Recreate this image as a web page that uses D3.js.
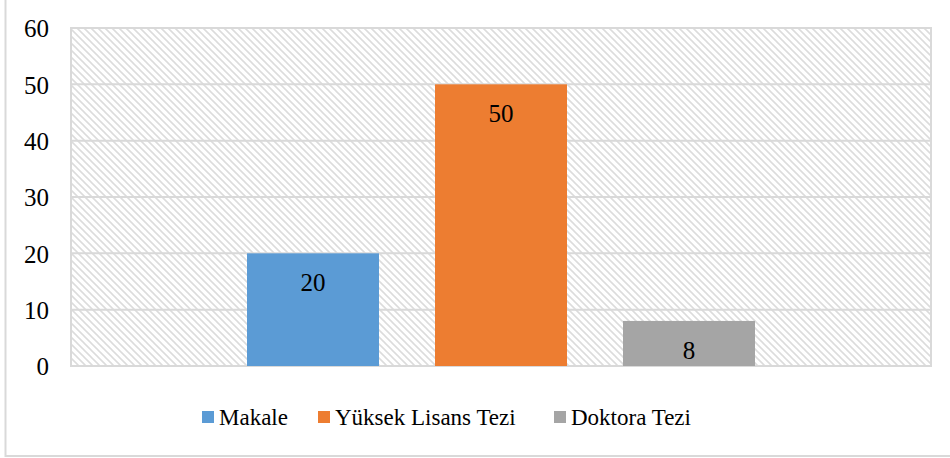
<!DOCTYPE html>
<html>
<head>
<meta charset="utf-8">
<script src="https://cdn.jsdelivr.net/npm/d3@7"></script>
<style>
  html, body { margin: 0; padding: 0; background: #fff; }
</style>
</head>
<body>
<div id="chart"></div>
<script>
// Data
const series = ['Makale', 'Yüksek Lisans Tezi', 'Doktora Tezi'];
const values = [20, 50, 8];
const colors = ['#5b9bd5', '#ed7d31', '#a5a5a5'];
const yTicks = [0, 10, 20, 30, 40, 50, 60];

const FONT = 'Liberation Serif';
const W = 950, H = 458;
const plot = { left: 71, top: 28, right: 931, bottom: 366 };

const svg = d3.select('#chart').append('svg')
  .attr('width', W).attr('height', H)
  .attr('font-family', FONT);

// Hatch pattern for plot background
const defs = svg.append('defs');
defs.append('pattern')
  .attr('id', 'hatch')
  .attr('patternUnits', 'userSpaceOnUse')
  .attr('width', 7).attr('height', 7)
  .selectAll('path')
  .data(['M-1,-1 L8,8', 'M-1,6 L1,8', 'M6,-1 L8,1'])
  .join('path')
  .attr('d', d => d)
  .attr('stroke', '#dcdcdc')
  .attr('stroke-width', 1.6);

// Outer frame
svg.append('rect')
  .attr('x', 5.5).attr('y', -2)
  .attr('width', W + 10).attr('height', 458)
  .attr('fill', 'none')
  .attr('stroke', '#d9d9d9').attr('stroke-width', 2);

const y = d3.scaleLinear().domain([0, 60]).range([plot.bottom, plot.top]);
const x = d3.scaleBand().domain(series)
  .range([plot.left + 176, plot.right - 176])
  .paddingInner(56 / 188).paddingOuter(0);

// Plot area background
svg.append('rect')
  .attr('x', plot.left).attr('y', plot.top)
  .attr('width', plot.right - plot.left).attr('height', plot.bottom - plot.top)
  .attr('fill', 'url(#hatch)');

// Gridlines
svg.append('g')
  .selectAll('line')
  .data(yTicks)
  .join('line')
  .attr('x1', plot.left).attr('x2', plot.right)
  .attr('y1', d => y(d)).attr('y2', d => y(d))
  .attr('stroke', '#d9d9d9').attr('stroke-width', 2);

// Plot area border
svg.append('rect')
  .attr('x', plot.left).attr('y', plot.top)
  .attr('width', plot.right - plot.left).attr('height', plot.bottom - plot.top)
  .attr('fill', 'none')
  .attr('stroke', '#d9d9d9').attr('stroke-width', 2);

// Y axis labels
const yAxis = svg.append('g')
  .attr('transform', `translate(${plot.left - 22},0)`)
  .call(d3.axisLeft(y).tickValues(yTicks).tickSize(0).tickPadding(0))
  .attr('font-family', FONT)
  .attr('font-size', 25);
yAxis.select('.domain').remove();
yAxis.selectAll('text')
  .attr('fill', '#000')
  .attr('dy', '0.35em');

// Bars
const bars = svg.append('g')
  .selectAll('g')
  .data(series.map((s, i) => ({ s, v: values[i], c: colors[i] })))
  .join('g');

bars.append('rect')
  .attr('x', d => x(d.s))
  .attr('y', d => y(d.v))
  .attr('width', x.bandwidth())
  .attr('height', d => y(0) - y(d.v))
  .attr('fill', d => d.c);

bars.append('text')
  .attr('x', d => x(d.s) + x.bandwidth() / 2)
  .attr('y', d => y(d.v) + 29)
  .attr('dy', '0.35em')
  .attr('text-anchor', 'middle')
  .attr('font-family', FONT)
  .attr('font-size', 25)
  .attr('fill', '#000')
  .text(d => d.v);

// Legend
const legendX = [202, 318, 554];
const legend = svg.append('g')
  .selectAll('g')
  .data(series)
  .join('g')
  .attr('transform', (d, i) => `translate(${legendX[i]},417)`);

legend.append('rect')
  .attr('x', 0).attr('y', -6)
  .attr('width', 12).attr('height', 12)
  .attr('fill', (d, i) => colors[i]);

legend.append('text')
  .attr('x', 17)
  .attr('dy', '0.35em')
  .attr('font-family', FONT)
  .attr('font-size', 23)
  .attr('fill', '#000')
  .text(d => d);
</script>
</body>
</html>
